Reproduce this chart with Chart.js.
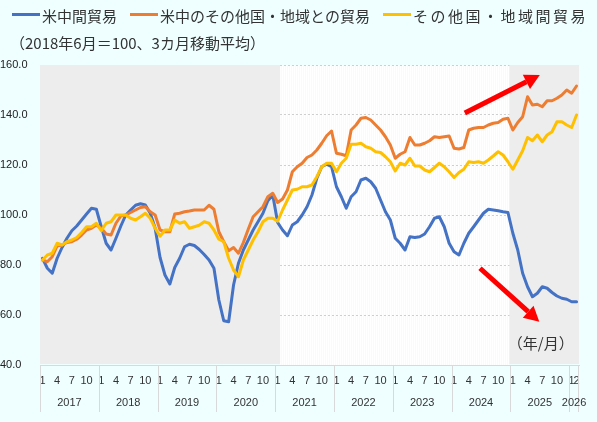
<!DOCTYPE html>
<html>
<head>
<meta charset="utf-8">
<script src="https://cdn.jsdelivr.net/npm/chart.js@4.4.1/dist/chart.umd.min.js"></script>
<style>
  html, body { margin: 0; padding: 0; background: #efffff; }
  #wrap { width: 597px; height: 422px; }
</style>
</head>
<body>
<div id="wrap"><canvas id="tradeChart" width="597" height="422"></canvas></div>
<script>
const seriesNames = ['米中間貿易', '米中のその他国・地域との貿易', 'その他国・地域間貿易'];
const seriesColors = ['#4472c4', '#ed7d31', '#ffc000'];
const noteText = '（2018年6月＝100、3カ月移動平均）';
const unitText = '（年/月）';

const years = [2017, 2018, 2019, 2020, 2021, 2022, 2023, 2024, 2025, 2026];
const monthsInLastYear = 2;
const shownMonths = [1, 4, 7, 10];
const yMin = 40, yMax = 160, yStep = 20;

// category labels "yyyy/m"
const periods = [];
years.forEach((y, i) => {
    const n = i === years.length - 1 ? monthsInLastYear : 12;
    for (let m = 1; m <= n; m++) periods.push(y + '/' + m);
});

const usChina = [
    82.7, 78.7, 76.7, 82.7, 87, 90.7, 93.7, 95.6, 98, 100.4, 102.7, 102.3,
    95.3, 88.7, 86, 90.7, 95.6, 100, 102, 103.9, 104.5, 104, 100.7, 94.7,
    83, 76, 72.4, 79, 82.7, 87.3, 88.3, 87.8, 86.2, 84.2, 82, 78.7,
    66, 57.7, 57.3, 72, 80.7, 86, 90, 94, 97.3, 100.7, 105.7, 108,
    97, 94, 91.7, 96, 97.3, 100, 103.3, 108, 114.7, 119.3, 120.3, 119.3,
    111.3, 107.3, 102.7, 107.3, 109.3, 114, 114.7, 113.3, 110.7, 106, 101.3, 98,
    90.7, 88.7, 86, 91.3, 91, 91.3, 92.4, 95.3, 98.7, 99.3, 95.3, 88.7,
    85.3, 84, 88.7, 92.7, 95.3, 98, 100.7, 102.3, 102, 101.7, 101.3, 101,
    92.7, 86, 76.7, 71.3, 67.3, 68.7, 71.3, 70.7, 69, 67.6, 66.7, 66.3,
    65.3, 65.3
];
const usChinaWithOthers = [
    82, 81.3, 83.3, 87.6, 88, 89, 89.3, 90.3, 92, 94, 94.7, 96,
    94.7, 92.4, 92, 96.7, 99.6, 100, 101, 102, 103, 103.3, 101.3, 100,
    94, 93.3, 93.3, 100.4, 100.7, 101.3, 101.6, 102, 102, 102, 103.9, 102.3,
    93.3, 89.3, 85.7, 87, 84.7, 89, 94.3, 99.3, 101.3, 103.3, 107.3, 108.7,
    105, 106.4, 110, 117.3, 119.3, 120.7, 123, 124, 126, 128.7, 131.7, 133.6,
    124.7, 124.3, 123.7, 134, 136, 138.7, 139, 138, 136, 134, 131.3, 128,
    122.7, 124.3, 125.3, 131, 128, 128, 128.7, 129.7, 131.3, 131, 131.3, 131.6,
    126.7, 126.4, 127, 134, 134.7, 135, 135, 136, 136.7, 137, 138.3, 138.7,
    134, 137, 139.3, 147.3, 144, 144.3, 143.3, 145.7, 145.7, 146.7, 148, 150,
    148.7, 151.6
];
const othersBetween = [
    82, 84, 84.7, 88.7, 88, 89.3, 90, 91, 93, 95.3, 95.3, 96.7,
    93.7, 96.7, 97.3, 100, 100, 100, 98.7, 98, 99.3, 100.7, 98.7, 94.7,
    91.5, 94, 94, 98, 96.7, 97.3, 94.7, 95.3, 95.9, 97.3, 96.7, 94,
    90.3, 89.3, 82.7, 78, 75.3, 82, 86, 90, 93.3, 97.3, 98.7, 98.7,
    97.5, 102, 106, 110, 110.3, 111.3, 111.3, 112, 115.3, 119.3, 120.7, 120.7,
    117.3, 120.7, 122.7, 128.3, 128.3, 128.7, 127.3, 126.7, 125.3, 125, 123.3, 121.3,
    117.6, 120.7, 120, 122.7, 119.6, 119.6, 118, 117.3, 119, 120.7, 119.3, 117.3,
    115, 117, 118.3, 121.3, 121, 121.3, 120.7, 122, 123.6, 125.3, 124, 121.3,
    118.3, 122, 125.7, 131, 129.7, 132, 129.3, 132, 133.3, 137.3, 137.3, 136,
    135, 140
];

// shaded periods, in category index units
const shadedSpans = [[-0.5, 48.5], [95.3, 109.5]];
// red arrows: [from index, from value, to index, to value]
const arrows = [[86.2, 140.8, 101.5, 156], [89.3, 78.7, 101.4, 57.3]];
const unitPos = [101.7, 48.8];

const cjk = '"Noto Sans CJK JP", "Noto Sans", sans-serif';

const decorPlugin = {
    id: 'decor',
    beforeDraw(chart) {
        const { ctx, chartArea: a } = chart;
        const x = chart.scales.x;
        ctx.save();
        ctx.fillStyle = '#efffff';
        ctx.fillRect(0, 0, chart.width, chart.height);
        // light vertical hatch for the unshaded period
        const l = x.getPixelForValue(shadedSpans[0][1]);
        const r = x.getPixelForValue(shadedSpans[1][0]);
        ctx.strokeStyle = '#ffffff';
        ctx.lineWidth = 1;
        ctx.beginPath();
        for (let px = Math.round(l) + 0.5; px < r; px += 2) {
            ctx.moveTo(px, a.top);
            ctx.lineTo(px, a.bottom);
        }
        ctx.stroke();
        ctx.restore();
    },
    beforeDatasetsDraw(chart) {
        const { ctx, chartArea: a } = chart;
        const x = chart.scales.x;
        ctx.save();
        ctx.fillStyle = '#ededed';
        shadedSpans.forEach(([s, e]) => {
            const l = x.getPixelForValue(s), r = x.getPixelForValue(e);
            ctx.fillRect(l, a.top, r - l, a.bottom - a.top - 1);
        });
        ctx.restore();
    },
    afterDatasetsDraw(chart) {
        const { ctx } = chart;
        const x = chart.scales.x, y = chart.scales.y;
        ctx.save();
        ctx.strokeStyle = '#ff0000';
        ctx.fillStyle = '#ff0000';
        arrows.forEach(([i0, v0, i1, v1]) => {
            const x0 = x.getPixelForValue(i0), y0 = y.getPixelForValue(v0);
            const x1 = x.getPixelForValue(i1), y1 = y.getPixelForValue(v1);
            const ang = Math.atan2(y1 - y0, x1 - x0);
            const headLen = 15, headHalf = 8;
            const bx = x1 - headLen * Math.cos(ang), by = y1 - headLen * Math.sin(ang);
            ctx.lineWidth = 5;
            ctx.beginPath();
            ctx.moveTo(x0, y0);
            ctx.lineTo(bx, by);
            ctx.stroke();
            ctx.beginPath();
            ctx.moveTo(x1, y1);
            ctx.lineTo(bx + headHalf * Math.sin(ang), by - headHalf * Math.cos(ang));
            ctx.lineTo(bx - headHalf * Math.sin(ang), by + headHalf * Math.cos(ang));
            ctx.closePath();
            ctx.fill();
        });
        ctx.fillStyle = '#333333';
        ctx.font = '15px ' + cjk;
        ctx.textAlign = 'center';
        ctx.textBaseline = 'middle';
        ctx.fillText(unitText, x.getPixelForValue(unitPos[0]), y.getPixelForValue(unitPos[1]));
        ctx.restore();
    },
    afterDraw(chart) {
        const { ctx, chartArea: a } = chart;
        const x = chart.scales.x;
        ctx.save();
        // year row and separators
        const half = (x.getPixelForValue(1) - x.getPixelForValue(0)) / 2;
        ctx.strokeStyle = '#d9d9d9';
        ctx.lineWidth = 1;
        ctx.fillStyle = '#333333';
        ctx.font = '11px "Liberation Sans", Arial, sans-serif';
        ctx.textAlign = 'center';
        ctx.textBaseline = 'middle';
        let start = 0;
        years.forEach(year => {
            const count = periods.filter(p => p.startsWith(year + '/')).length;
            const left = x.getPixelForValue(start) - half;
            const right = x.getPixelForValue(start + count - 1) + half;
            ctx.beginPath();
            ctx.moveTo(Math.round(left) + 0.5, a.bottom);
            ctx.lineTo(Math.round(left) + 0.5, 412);
            if (start + count === periods.length) {
                ctx.moveTo(Math.round(right) - 0.5, a.bottom);
                ctx.lineTo(Math.round(right) - 0.5, 412);
            }
            ctx.stroke();
            ctx.fillText(String(year), (left + right) / 2, 403);
            start += count;
        });
        // legend
        ctx.font = '15px ' + cjk;
        ctx.textAlign = 'left';
        let lx = 12;
        chart.data.datasets.forEach((ds, i) => {
            ctx.strokeStyle = ds.borderColor;
            ctx.lineWidth = 3;
            ctx.beginPath();
            ctx.moveTo(lx, 14.5);
            ctx.lineTo(lx + 28, 14.5);
            ctx.stroke();
            ctx.fillStyle = '#333333';
            ctx.letterSpacing = i === chart.data.datasets.length - 1 ? '2.5px' : '0px';
            ctx.fillText(ds.label, lx + 30, 16);
            lx += 30 + ctx.measureText(ds.label).width + 13;
        });
        ctx.letterSpacing = '0px';
        ctx.fillText(noteText, 10, 43);
        ctx.restore();
    }
};

new Chart(document.getElementById('tradeChart'), {
    type: 'line',
    data: {
        labels: periods,
        datasets: [
            { label: seriesNames[0], data: usChina, borderColor: seriesColors[0], order: 2 },
            { label: seriesNames[1], data: usChinaWithOthers, borderColor: seriesColors[1], order: 1 },
            { label: seriesNames[2], data: othersBetween, borderColor: seriesColors[2], order: 0 }
        ]
    },
    options: {
        responsive: false,
        animation: false,
        devicePixelRatio: 1,
        layout: { padding: { top: 65, right: 18, left: 0, bottom: 0 } },
        elements: {
            line: { borderWidth: 3, tension: 0, fill: false, borderJoinStyle: 'round', borderCapStyle: 'round' },
            point: { radius: 0, hoverRadius: 0 }
        },
        plugins: {
            legend: { display: false },
            tooltip: { enabled: false }
        },
        scales: {
            x: {
                type: 'category',
                offset: true,
                afterFit: s => { s.height = 57; },
                grid: { display: false, drawTicks: false },
                border: { display: true, color: '#d9d9d9' },
                ticks: {
                    autoSkip: false,
                    maxRotation: 0,
                    padding: 9,
                    color: '#333333',
                    font: { size: 11, family: '"Liberation Sans", Arial, sans-serif' },
                    callback: function (value) {
                        const [yr, m] = this.getLabelForValue(value).split('/').map(Number);
                        return (yr === years[years.length - 1] || shownMonths.includes(m)) ? String(m) : '';
                    }
                }
            },
            y: {
                min: yMin,
                max: yMax,
                afterFit: s => { s.width = 40; },
                grid: { color: '#cfcfcf', drawTicks: false },
                border: { display: false, dash: [2, 2] },
                ticks: {
                    stepSize: yStep,
                    crossAlign: 'far',
                    padding: 4,
                    color: '#222222',
                    font: { size: 11, family: '"Liberation Sans", Arial, sans-serif' },
                    callback: v => v.toFixed(1)
                }
            }
        }
    },
    plugins: [decorPlugin]
});
</script>
</body>
</html>
